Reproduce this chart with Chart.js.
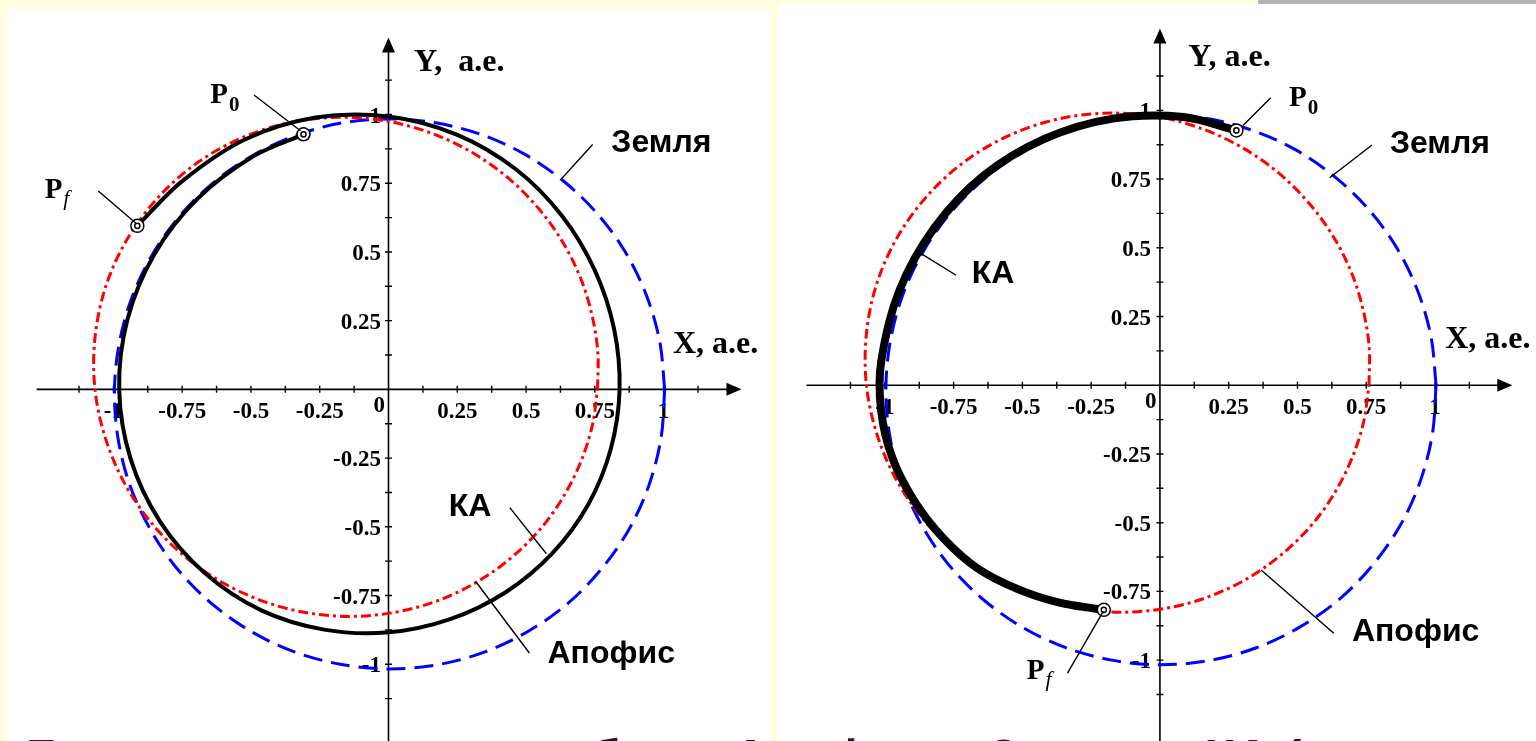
<!DOCTYPE html>
<html>
<head>
<meta charset="utf-8">
<script src="https://cdn.jsdelivr.net/npm/chart.js@4/dist/chart.umd.min.js"></script>
<style>
  html, body { margin: 0; padding: 0; width: 1536px; height: 741px; overflow: hidden; background: #ffffe0; }
  .panel { position: absolute; background: #ffffff; }
  #left  { left: 7px;   top: 9px; width: 763px; height: 732px; }
  #right { left: 778px; top: 4px; width: 758px; height: 737px; }
  #bar { position: absolute; left: 1258px; top: 0; width: 278px; height: 4px; background: #b4b4b4; }
  #title { position: absolute; left: 26px; top: 733px; font: bold 50px "Liberation Sans", Arial, sans-serif;
           line-height: 50px; color: #3c0a3c; white-space: nowrap; }
  canvas { display: block; }
</style>
</head>
<body>
<div id="bar"></div>
<div class="panel" id="left"><canvas id="orbitsA" width="763" height="732"></canvas></div>
<div class="panel" id="right"><canvas id="orbitsB" width="758" height="737"></canvas></div>
<div id="title">Гелиоцентрические орбиты Апофиса, Земли и КА (</div>

<script>
// ---- Orbit data, astronomical units (ecliptic projection) ----
// Earth orbit
const earthX = [1.004, 0.986, 0.938, 0.862, 0.760, 0.636, 0.494, 0.337, 0.171, 0, -0.171, -0.336, -0.492,
  -0.633, -0.756, -0.856, -0.931, -0.978, -0.996, -0.984, -0.942, -0.870, -0.772, -0.649, -0.506, -0.347,
  -0.176, 0, 0.177, 0.348, 0.508, 0.653, 0.776, 0.876, 0.948, 0.991, 1.004];
const earthY = [0, 0.174, 0.341, 0.498, 0.638, 0.758, 0.856, 0.927, 0.970, 0.984, 0.969, 0.924, 0.852,
  0.755, 0.634, 0.494, 0.339, 0.172, 0, -0.173, -0.343, -0.502, -0.648, -0.774, -0.877, -0.953,
  -1.000, -1.017, -1.002, -0.956, -0.880, -0.778, -0.651, -0.506, -0.345, -0.175, 0];

// Apophis orbit
const apophisX = [0.760, 0.761, 0.740, 0.699, 0.635, 0.549, 0.441, 0.312, 0.164, 0, -0.175, -0.354, -0.529,
  -0.693, -0.835, -0.949, -1.028, -1.067, -1.067, -1.028, -0.956, -0.855, -0.732, -0.594, -0.447, -0.296,
  -0.146, 0, 0.138, 0.266, 0.382, 0.485, 0.574, 0.646, 0.702, 0.741, 0.760];
const apophisY = [0, 0.134, 0.269, 0.403, 0.533, 0.654, 0.764, 0.857, 0.929, 0.975, 0.990, 0.972, 0.917,
  0.826, 0.701, 0.548, 0.374, 0.188, 0, -0.181, -0.348, -0.494, -0.615, -0.708, -0.774, -0.813,
  -0.826, -0.815, -0.783, -0.731, -0.662, -0.578, -0.481, -0.373, -0.256, -0.131, 0];

// Spacecraft (КА) trajectory, first variant: P0 -> Pf
const craftAX = [-0.309, -0.490, -0.694, -0.851, -0.949, -0.979, -0.938, -0.831, -0.668, -0.464, -0.234, 0,
  0.224, 0.426, 0.596, 0.726, 0.808, 0.840, 0.820, 0.750, 0.631, 0.463, 0.248, 0, -0.265, -0.524, -0.754, -0.913];
const craftAY = [0.928, 0.849, 0.694, 0.492, 0.254, 0, -0.251, -0.480, -0.668, -0.803, -0.874, -0.884,
  -0.836, -0.738, -0.596, -0.419, -0.217, 0, 0.220, 0.433, 0.631, 0.801, 0.927, 0.993, 0.989, 0.908, 0.754, 0.595];

// Spacecraft (КА) trajectory, second variant: P0 -> Pf
const craftBX = [0.278, 0.085, -0.171, -0.418, -0.640, -0.819, -0.947, -1.013, -1.014, -0.974, -0.895,
  -0.790, -0.665, -0.519, -0.369, -0.204];
const craftBY = [0.927, 0.976, 0.970, 0.897, 0.763, 0.574, 0.345, 0.089, -0.089, -0.261, -0.418,
  -0.554, -0.665, -0.741, -0.790, -0.817];

// Axis ticks and their captions
const tickValues = [-1.125, -1, -0.875, -0.75, -0.625, -0.5, -0.375, -0.25, -0.125,
  0.125, 0.25, 0.375, 0.5, 0.625, 0.75, 0.875, 1, 1.125];
const tickLabelValues = [-1, -0.75, -0.5, -0.25, 0.25, 0.5, 0.75, 1];
const tickLabels = ['-1', '-0.75', '-0.5', '-0.25', '0.25', '0.5', '0.75', '1'];

// ---- helpers ----
const pts = (xs, ys) => xs.map((x, i) => ({ x, y: ys[i] }));
const ends = (xs, ys) => [{ x: xs[0], y: ys[0] }, { x: xs[xs.length - 1], y: ys[ys.length - 1] }];

const SERIF = '"Liberation Serif", "Times New Roman", serif';
const SANS = '"Liberation Sans", Arial, sans-serif';

// Cartesian axes through the origin, with arrows, ticks, captions and callouts
const orbitAxes = {
  id: 'orbitAxes',
  beforeDatasetsDraw(chart, _args, o) {
    const { ctx, scales: { x, y } } = chart;
    const px = v => x.getPixelForValue(v), py = v => y.getPixelForValue(v);
    const ox = px(0), oy = py(0);
    ctx.save();
    ctx.strokeStyle = '#000';
    ctx.fillStyle = '#000';
    ctx.lineWidth = 1.6;
    const xa = px(o.xSpan[0]), xb = px(o.xSpan[1]);
    const ya = py(o.ySpan[0]), yb = py(o.ySpan[1]);
    ctx.beginPath();
    ctx.moveTo(xa, oy); ctx.lineTo(xb - 12, oy);
    ctx.moveTo(ox, ya); ctx.lineTo(ox, yb + 12);
    ctx.stroke();
    ctx.beginPath();
    ctx.moveTo(xb, oy); ctx.lineTo(xb - 15, oy - 6.5); ctx.lineTo(xb - 15, oy + 6.5); ctx.closePath();
    ctx.moveTo(ox, yb); ctx.lineTo(ox - 6.5, yb + 15); ctx.lineTo(ox + 6.5, yb + 15); ctx.closePath();
    ctx.fill();

    ctx.lineWidth = 1.4;
    ctx.beginPath();
    tickValues.forEach(v => {
      const tx = px(v), ty = py(v);
      ctx.moveTo(tx, oy - 3.5); ctx.lineTo(tx, oy + 3.5);
      ctx.moveTo(ox - 3.5, ty); ctx.lineTo(ox + 3.5, ty);
    });
    ctx.stroke();

    ctx.font = 'bold 23px ' + SERIF;
    ctx.textBaseline = 'alphabetic';
    ctx.textAlign = 'center';
    tickLabelValues.forEach((v, i) => ctx.fillText(tickLabels[i], px(v), oy + 29));
    ctx.textAlign = 'right';
    tickLabelValues.forEach((v, i) => ctx.fillText(tickLabels[i], ox - o.yLabelGap, py(v) + 8));
    ctx.fillText('0', ox - 3.5, oy + 23);

    ctx.font = 'bold 32px ' + SERIF;
    ctx.textAlign = 'left';
    o.titles.forEach(t => ctx.fillText(t.text, px(t.at[0]), py(t.at[1])));
    ctx.restore();
  },
  afterDatasetsDraw(chart, _args, o) {
    const { ctx, scales: { x, y } } = chart;
    const px = v => x.getPixelForValue(v), py = v => y.getPixelForValue(v);
    ctx.save();
    ctx.strokeStyle = '#000';
    ctx.fillStyle = '#000';
    ctx.lineWidth = 1.4;
    ctx.beginPath();
    o.leaders.forEach(l => {
      ctx.moveTo(px(l[0]), py(l[1]));
      ctx.lineTo(px(l[2]), py(l[3]));
    });
    ctx.stroke();

    ctx.textAlign = 'left';
    ctx.textBaseline = 'alphabetic';
    ctx.font = 'bold 32px ' + SANS;
    o.names.forEach(n => ctx.fillText(n.text, px(n.at[0]), py(n.at[1])));

    o.points.forEach(p => {
      const bx = px(p.at[0]), by = py(p.at[1]);
      ctx.font = 'bold 29px ' + SERIF;
      ctx.fillText('P', bx, by);
      const w = ctx.measureText('P').width;
      if (p.italic) {
        ctx.font = 'italic 22px ' + SERIF;
        ctx.fillText(p.sub, bx + w + 1, by + 7);
      } else {
        ctx.font = 'bold 21px ' + SERIF;
        ctx.fillText(p.sub, bx + w + 1, by + 8);
      }
    });
    ctx.restore();
  }
};

function orbitChart(canvasId, craftX, craftY, craftWidth, range, axes) {
  const marks = ends(craftX, craftY);
  return new Chart(document.getElementById(canvasId), {
    type: 'scatter',
    data: {
      datasets: [
        { label: 'P0, Pf', data: marks, order: 0, showLine: false,
          pointRadius: 2.6, pointBorderWidth: 1.5, pointBackgroundColor: '#fff', pointBorderColor: '#000' },
        { label: 'P0, Pf', data: marks, order: 1, showLine: false,
          pointRadius: 6.5, pointBorderWidth: 1.5, pointBackgroundColor: '#fff', pointBorderColor: '#000' },
        { label: 'КА', data: pts(craftX, craftY), order: 2, showLine: true, tension: 0.33,
          borderColor: '#000', borderWidth: craftWidth, pointRadius: 0, borderCapStyle: 'round' },
        { label: 'Апофис', data: pts(apophisX, apophisY), order: 3, showLine: true, tension: 0.33,
          borderColor: '#ff0000', borderWidth: 3, borderDash: [10, 4, 3, 4], pointRadius: 0 },
        { label: 'Земля', data: pts(earthX, earthY), order: 4, showLine: true, tension: 0.33,
          borderColor: '#0000ff', borderWidth: 3, borderDash: [19, 9], pointRadius: 0 }
      ]
    },
    options: {
      responsive: false,
      devicePixelRatio: 1,
      animation: false,
      events: [],
      layout: { padding: 0 },
      scales: {
        x: { type: 'linear', display: false, bounds: 'data', min: range.x[0], max: range.x[1] },
        y: { type: 'linear', display: false, bounds: 'data', min: range.y[0], max: range.y[1] }
      },
      plugins: {
        legend: { display: false },
        tooltip: { enabled: false },
        orbitAxes: axes
      }
    },
    plugins: [orbitAxes]
  });
}

orbitChart('orbitsA', craftAX, craftAY, 4, { x: [-1.3577, 1.3577], y: [-1.2502, 1.3548] }, {
  xSpan: [-1.279, 1.283], ySpan: [-1.5, 1.28], yLabelGap: 7.5,
  titles: [{ text: 'Y,  а.е.', at: [0.093, 1.159] }, { text: 'X, а.е.', at: [1.034, 0.134] }],
  names: [{ text: 'Земля', at: [0.810, 0.864] }, { text: 'КА', at: [0.219, -0.460] },
          { text: 'Апофис', at: [0.578, -0.994] }],
  leaders: [[0.742, 0.891, 0.627, 0.764], [0.441, -0.430, 0.574, -0.598], [0.512, -0.959, 0.317, -0.699],
            [-0.489, 1.071, -0.320, 0.941], [-1.055, 0.722, -0.919, 0.605]],
  points: [{ sub: '0', italic: false, at: [-0.648, 1.042] }, { sub: 'f', italic: true, at: [-1.250, 0.696] }]
});

orbitChart('orbitsB', craftBX, craftBY, 8, { x: [-1.3594, 1.3381], y: [-1.2651, 1.3577] }, {
  xSpan: [-1.285, 1.281], ySpan: [-1.5, 1.298], yLabelGap: 9,
  titles: [{ text: 'Y, а.е.', at: [0.103, 1.162] }, { text: 'X, а.е.', at: [1.037, 0.136] }],
  names: [{ text: 'Земля', at: [0.836, 0.844] }, { text: 'КА', at: [-0.684, 0.371] },
          { text: 'Апофис', at: [0.698, -0.932] }],
  leaders: [[0.403, 1.046, 0.302, 0.945], [0.771, 0.874, 0.617, 0.755], [-0.741, 0.400, -0.884, 0.489],
            [0.632, -0.902, 0.368, -0.672], [-0.336, -1.047, -0.206, -0.823]],
  points: [{ sub: '0', italic: false, at: [0.469, 1.014] }, { sub: 'f', italic: true, at: [-0.484, -1.070] }]
});
</script>
</body>
</html>
